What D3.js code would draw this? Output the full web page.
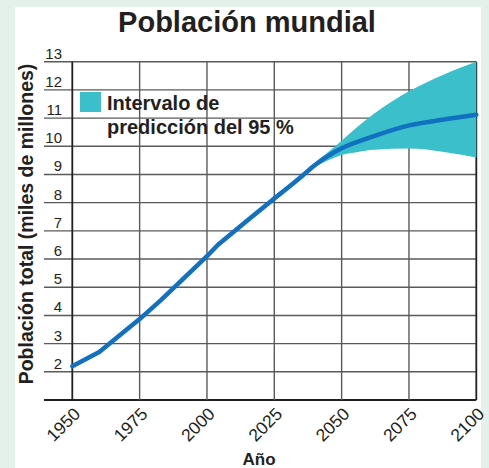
<!DOCTYPE html>
<html>
<head>
<meta charset="utf-8">
<script src="https://cdn.jsdelivr.net/npm/d3@7"></script>
<style>
  body { margin: 0; background: #e4f1ea; }
  svg { display: block; }
  text { font-family: Arial, "Liberation Sans", Helvetica, sans-serif; fill: #231f20; }
</style>
</head>
<body>
<div id="chart"></div>
<script>
// Data
const histYears = [1950, 1960, 1975, 1983, 2000, 2004, 2016, 2025];
const histPopulation = [2.2, 2.7, 3.87, 4.55, 6.1, 6.5, 7.45, 8.15];

const projYears = [2025, 2035, 2040, 2045, 2050, 2062, 2075, 2088, 2100];
const projPopulation = [8.15, 8.92, 9.33, 9.66, 9.93, 10.36, 10.74, 10.95, 11.12];

const bandYears = [2037, 2040, 2045, 2050, 2056, 2062, 2075, 2088, 2100];
const bandUpper = [9.05, 9.4, 9.8, 10.2, 10.7, 11.15, 11.95, 12.55, 13.0];
const bandLower = [9.05, 9.25, 9.5, 9.69, 9.8, 9.88, 9.92, 9.8, 9.6];

const xTicks = [1950, 1975, 2000, 2025, 2050, 2075, 2100];
const yTicks = [1, 2, 3, 4, 5, 6, 7, 8, 9, 10, 11, 12, 13];
const yTickLabels = ["", "2", "3", "4", "5", "6", "7", "8", "9", "10", "11", "12", "13"];

const width = 489, height = 468;
const margin = { left: 72.3, right: 489 - 476.3, top: 61.7, bottom: 468 - 400 };

const svg = d3.select("#chart").append("svg")
    .attr("width", width)
    .attr("height", height);

// white panel
svg.append("rect")
    .attr("x", 15).attr("y", 7)
    .attr("width", 466).attr("height", 470)
    .attr("fill", "#fff");

const x = d3.scaleLinear().domain([1950, 2100]).range([margin.left, width - margin.right]);
const y = d3.scaleLinear().domain([1, 13]).range([height - margin.bottom, margin.top]);

// Horizontal grid lines with labels sitting on them
const hGrid = svg.append("g").attr("class", "h-grid");
hGrid.selectAll("line")
    .data(yTicks)
    .enter().append("line")
    .attr("x1", 44)
    .attr("x2", x(2100))
    .attr("y1", d => y(d))
    .attr("y2", d => y(d))
    .attr("stroke", d => d === 1 ? "#231f20" : "#5a5a5a")
    .attr("stroke-width", d => d === 1 ? 2 : 1.4);

hGrid.selectAll("text")
    .data(yTicks)
    .enter().append("text")
    .attr("x", 62)
    .attr("y", d => y(d) - 3)
    .attr("text-anchor", "end")
    .style("font-size", "15px")
    .text((d, i) => yTickLabels[i]);

// Vertical grid lines
svg.append("g").attr("class", "v-grid")
    .selectAll("line")
    .data(xTicks)
    .enter().append("line")
    .attr("x1", d => x(d))
    .attr("x2", d => x(d))
    .attr("y1", y(13))
    .attr("y2", y(1))
    .attr("stroke", d => (d === 1950 || d === 2100) ? "#231f20" : "#5a5a5a")
    .attr("stroke-width", d => (d === 1950 || d === 2100) ? 1.8 : 1.4);

// Prediction interval band
const area = d3.area()
    .x((d, i) => x(bandYears[i]))
    .y0((d, i) => y(bandLower[i]))
    .y1((d, i) => y(bandUpper[i]))
    .curve(d3.curveMonotoneX);

svg.append("path")
    .datum(bandYears)
    .attr("d", area)
    .attr("fill", "#3bbfca");

// Population line: estimates are straight segments, projection is smooth
const histLine = d3.line()
    .x((d, i) => x(histYears[i]))
    .y((d, i) => y(histPopulation[i]));

const projLine = d3.line()
    .x((d, i) => x(projYears[i]))
    .y((d, i) => y(projPopulation[i]))
    .curve(d3.curveMonotoneX);

svg.append("path")
    .datum(histYears)
    .attr("d", histLine)
    .attr("fill", "none")
    .attr("stroke", "#1170c0")
    .attr("stroke-width", 4.5)
    .attr("stroke-linejoin", "round")
    .attr("stroke-linecap", "round");

svg.append("path")
    .datum(projYears)
    .attr("d", projLine)
    .attr("fill", "none")
    .attr("stroke", "#1170c0")
    .attr("stroke-width", 4.5)
    .attr("stroke-linecap", "round");

// X tick labels (rotated)
svg.append("g").attr("class", "x-labels")
    .selectAll("text")
    .data(xTicks)
    .enter().append("text")
    .attr("transform", d => `translate(${x(d) + 9},${y(1) + 15}) rotate(-45)`)
    .attr("text-anchor", "end")
    .style("font-size", "17.5px")
    .text(d => d);

// Title
svg.append("text")
    .attr("x", 247)
    .attr("y", 32)
    .attr("text-anchor", "middle")
    .style("font-size", "29px")
    .style("font-weight", "bold")
    .text("Población mundial");

// Axis titles
svg.append("text")
    .attr("transform", "translate(33,224) rotate(-90)")
    .attr("text-anchor", "middle")
    .style("font-size", "19.5px")
    .style("font-weight", "bold")
    .text("Población total (miles de millones)");

svg.append("text")
    .attr("x", 259)
    .attr("y", 465)
    .attr("text-anchor", "middle")
    .style("font-size", "17px")
    .style("font-weight", "bold")
    .text("Año");

// Legend
const legend = svg.append("g").attr("class", "legend");
legend.append("rect")
    .attr("x", 80).attr("y", 92)
    .attr("width", 21).attr("height", 20)
    .attr("fill", "#3bbfca");
legend.append("text")
    .attr("x", 107).attr("y", 110)
    .style("font-size", "20px")
    .style("font-weight", "bold")
    .text("Intervalo de");
legend.append("text")
    .attr("x", 107).attr("y", 134)
    .style("font-size", "20px")
    .style("font-weight", "bold")
    .text("predicción del 95 %");
</script>
</body>
</html>
